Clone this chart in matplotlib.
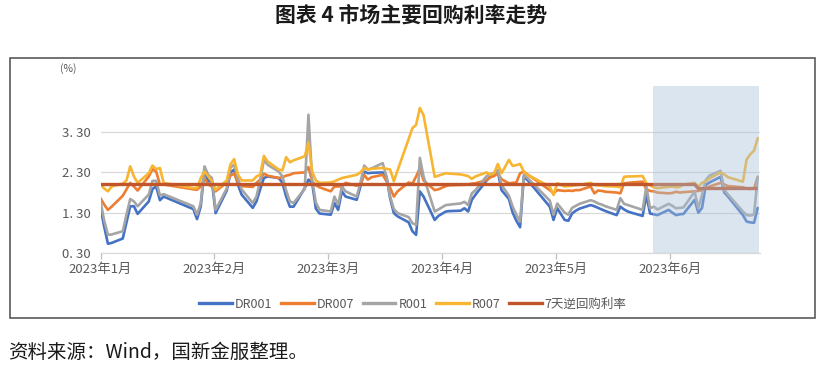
import matplotlib
matplotlib.use("Agg")
import matplotlib.pyplot as plt
from matplotlib.patches import Rectangle
from matplotlib.lines import Line2D
import pandas as pd

plt.rcParams['font.family'] = ['Noto Sans CJK SC', 'DejaVu Sans']

# ---------------- data ----------------
trade_days = [
    "01-03", "01-04", "01-05", "01-06", "01-09", "01-10", "01-11", "01-12", "01-13",
    "01-16", "01-17", "01-18", "01-19", "01-20", "01-28", "01-29", "01-30", "01-31",
    "02-01", "02-02", "02-03", "02-06", "02-07", "02-08", "02-09", "02-10", "02-13",
    "02-14", "02-15", "02-16", "02-17", "02-20", "02-21", "02-22", "02-23", "02-24",
    "02-27", "02-28",
    "03-01", "03-02", "03-03", "03-06", "03-07", "03-08", "03-09", "03-10", "03-13",
    "03-14", "03-15", "03-16", "03-17", "03-20", "03-21", "03-22", "03-23", "03-24",
    "03-27", "03-28", "03-29", "03-30", "03-31",
    "04-03", "04-04", "04-06", "04-07", "04-10", "04-11", "04-12", "04-13", "04-14",
    "04-17", "04-18", "04-19", "04-20", "04-21", "04-23", "04-24", "04-25", "04-26",
    "04-27", "04-28",
    "05-04", "05-05", "05-06", "05-08", "05-09", "05-10", "05-11", "05-12", "05-15",
    "05-16", "05-17", "05-18", "05-19", "05-22", "05-23", "05-24", "05-25", "05-26",
    "05-29", "05-30", "05-31",
    "06-01", "06-02", "06-05", "06-06", "06-07", "06-08", "06-09", "06-12", "06-13",
    "06-14", "06-15", "06-16", "06-19", "06-20", "06-21", "06-25", "06-26", "06-27",
    "06-28", "06-29",
]

dr001 = [
    1.42, 0.95, 0.53, 0.55, 0.66, 1.06, 1.46, 1.46, 1.27, 1.58, 1.89, 1.95, 1.61, 1.70, 1.39, 1.14, 1.46, 2.37,
    2.08, 2.08, 1.29, 1.85, 2.30, 2.37, 2.00, 1.75, 1.42, 1.58, 1.88, 2.16, 2.20, 2.16, 2.04, 1.70, 1.45, 1.45, 1.91, 2.12,
    2.04, 1.40, 1.28, 1.25, 1.54, 1.37, 1.83, 1.70, 1.62, 1.95, 2.32, 2.28, 2.29, 2.30, 2.20, 1.66, 1.29, 1.21, 1.06, 0.84, 0.75, 1.83, 1.70,
    1.12, 1.22, 1.33, 1.34, 1.35, 1.41, 1.33, 1.62, 1.75, 2.10, 2.20, 2.24, 2.32, 1.86, 1.64, 1.30, 1.10, 0.94, 2.19, 2.11,
    1.45, 1.12, 1.41, 1.12, 1.10, 1.28, 1.35, 1.40, 1.49, 1.46, 1.42, 1.38, 1.34, 1.24, 1.45, 1.38, 1.33, 1.30, 1.22, 1.74, 1.28,
    1.26, 1.24, 1.37, 1.30, 1.24, 1.26, 1.27, 1.62, 1.30, 1.42, 1.99, 2.05, 2.19, 1.80, 1.70, 1.24, 1.08, 1.06, 1.05, 1.42,
]

dr007 = [
    1.66, 1.50, 1.37, 1.45, 1.72, 1.88, 2.04, 1.95, 1.85, 2.20, 2.38, 2.32, 2.00, 2.00, 1.88, 1.87, 1.95, 2.16,
    2.00, 1.95, 1.83, 2.05, 2.22, 2.27, 2.05, 1.96, 1.94, 2.04, 2.12, 2.27, 2.22, 2.16, 2.18, 2.22, 2.24, 2.28, 2.30, 2.43,
    2.08, 1.98, 1.93, 1.83, 1.95, 1.95, 1.95, 2.04, 1.97, 2.00, 2.24, 2.12, 2.18, 2.24, 2.08, 1.92, 1.70, 1.83, 2.05, 2.02, 2.20, 2.40, 2.10,
    1.86, 1.88, 1.96, 1.98, 1.99, 1.99, 2.00, 2.02, 2.03, 2.11, 2.18, 2.21, 2.28, 2.13, 2.03, 2.04, 2.05, 2.28, 2.32, 2.25,
    1.86, 1.78, 1.86, 1.84, 1.85, 1.84, 1.86, 1.86, 1.95, 1.78, 1.85, 1.84, 1.82, 1.80, 1.78, 2.03, 2.04, 2.05, 2.07, 1.88, 1.84,
    1.83, 1.80, 1.78, 1.79, 1.82, 1.80, 1.81, 1.83, 1.84, 1.86, 1.92, 1.95, 2.04, 2.00, 1.96, 1.93, 1.90, 1.89, 1.90, 2.19,
]

r001 = [
    1.58, 1.10, 0.75, 0.76, 0.84, 1.25, 1.64, 1.58, 1.46, 1.75, 2.09, 2.09, 1.73, 1.76, 1.46, 1.25, 1.54, 2.45,
    2.24, 2.16, 1.37, 1.90, 2.42, 2.49, 2.15, 1.88, 1.54, 1.70, 2.10, 2.61, 2.49, 2.32, 2.20, 1.85, 1.58, 1.54, 1.89, 3.73,
    2.12, 1.55, 1.37, 1.33, 1.70, 1.50, 1.95, 1.83, 1.70, 2.04, 2.47, 2.37, 2.40, 2.53, 2.20, 1.70, 1.39, 1.29, 1.19, 1.04, 1.00, 2.66, 2.20,
    1.33, 1.38, 1.49, 1.50, 1.53, 1.57, 1.49, 1.78, 1.86, 2.21, 2.26, 2.28, 2.36, 1.99, 1.72, 1.45, 1.25, 1.08, 2.24, 2.16,
    1.60, 1.25, 1.53, 1.30, 1.25, 1.42, 1.47, 1.52, 1.61, 1.58, 1.53, 1.50, 1.46, 1.37, 1.66, 1.52, 1.49, 1.46, 1.37, 1.95, 1.41,
    1.45, 1.38, 1.52, 1.47, 1.41, 1.42, 1.43, 1.82, 1.41, 1.74, 2.11, 2.22, 2.34, 1.86, 1.75, 1.33, 1.24, 1.23, 1.25, 2.19,
]

r007 = [
    2.00, 1.90, 1.83, 1.95, 2.02, 2.10, 2.45, 2.20, 2.04, 2.28, 2.47, 2.38, 2.41, 2.04, 1.91, 1.91, 2.16, 2.32,
    2.20, 2.08, 1.87, 2.10, 2.50, 2.63, 2.25, 2.10, 2.10, 2.20, 2.24, 2.71, 2.57, 2.37, 2.35, 2.68, 2.55, 2.60, 2.70, 3.04,
    2.32, 2.10, 2.04, 2.05, 2.08, 2.12, 2.16, 2.18, 2.24, 2.30, 2.41, 2.37, 2.39, 2.41, 2.39, 2.37, 2.08, 2.35, 3.13, 3.40, 3.48, 3.90, 3.72,
    2.19, 2.22, 2.28, 2.27, 2.25, 2.23, 2.21, 2.14, 2.20, 2.30, 2.24, 2.28, 2.51, 2.28, 2.61, 2.46, 2.48, 2.51, 2.32, 2.24,
    1.95, 1.74, 2.03, 1.95, 1.96, 1.97, 1.98, 1.99, 2.04, 1.99, 1.98, 1.97, 1.96, 1.95, 1.93, 2.19, 2.20, 2.20, 2.21, 2.03, 1.98,
    1.93, 1.91, 1.94, 1.95, 1.93, 1.94, 2.00, 2.04, 1.95, 2.04, 2.08, 2.15, 2.30, 2.25, 2.18, 2.07, 2.62, 2.75, 2.84, 3.15,
]

rr_days = ["01-03", "06-12", "06-13", "06-29"]
rr7 = [2.00, 2.00, 1.90, 1.90]

series_names = ["DR001", "DR007", "R001", "R007", "7天逆回购利率"]
series_colors = ["#4472C4", "#ED7D31", "#A5A5A5", "#F8B532", "#C0562A"]
x_tick_labels = ["2023年1月", "2023年2月", "2023年3月", "2023年4月", "2023年5月", "2023年6月"]
y_ticks = [0.30, 1.30, 2.30, 3.30]
y_tick_labels = ["0. 30", "1. 30", "2. 30", "3. 30"]

title = "图表 4 市场主要回购利率走势"
source = "资料来源：Wind，国新金服整理。"

# ---------------- figure ----------------
W, H = 823, 374
fig = plt.figure(figsize=(W / 100, H / 100), dpi=100)

x = pd.to_datetime(["2023-" + d for d in trade_days])
x_rr = pd.to_datetime(["2023-" + d for d in rr_days])
start = x[0]
day = pd.Timedelta(days=1)

ax_left, ax_right, ax_top, ax_bot = 100.5, 759.6, 86, 253
ax = fig.add_axes([ax_left / W, 1 - ax_bot / H, (ax_right - ax_left) / W, (ax_bot - ax_top) / H])

for vals, col in zip([dr001, dr007, r001, r007], series_colors[:4]):
    ax.plot(x, vals, color=col, lw=1.9, solid_joinstyle="round", solid_capstyle="round", zorder=3)
ax.plot(x_rr, rr7, color=series_colors[4], lw=2.4, solid_capstyle="butt", zorder=4)

ax.set_xlim(start, start + 177.5 * day)
ax.set_ylim(0.30, 4.444)

# shaded focus window
ax.axvspan(start + 148.8 * day, start + 177.3 * day, color="#A8C1DA", alpha=0.42, lw=0, zorder=6)

ax.set_yticks(y_ticks)
ax.set_yticklabels(y_tick_labels)
ax.set_xticks([start + 30.7 * k * day for k in range(len(x_tick_labels))])
ax.set_xticklabels(x_tick_labels)

ax.grid(axis="y", color="#D9D9D9", lw=0.9, zorder=0)
for s in ["top", "right", "left"]:
    ax.spines[s].set_visible(False)
ax.spines["bottom"].set_color("#D9D9D9")
ax.spines["bottom"].set_linewidth(0.9)
ax.tick_params(axis="x", length=4, width=0.9, color="#BFBFBF", labelsize=9.5,
               labelcolor="#595959", pad=3.5)
ax.tick_params(axis="y", length=0, labelsize=9.5, labelcolor="#595959", pad=7)

fig.text(68 / W, 1 - 69 / H, "(%)", ha="center", va="center", fontsize=7.5, color="#595959")

handles = [Line2D([0], [0], color=c, lw=2.4) for c in series_colors]
fig.legend(handles, series_names, loc="center", bbox_to_anchor=(413 / W, 1 - 304 / H),
           ncol=5, frameon=False, fontsize=9, handlelength=2.6, handletextpad=0.25,
           columnspacing=0.7, labelcolor="#595959")

fig.text(0.5, 1 - 15 / H, title, ha="center", va="center", fontsize=15,
         fontweight="bold", color="#1a1a1a")
fig.text(8 / W, 1 - 352 / H, source, ha="left", va="center", fontsize=14, color="#1a1a1a")

fig.add_artist(Rectangle((10 / W, 1 - 318 / H), 805 / W, 260 / H, transform=fig.transFigure,
                         fill=False, edgecolor="#5a5a5a", lw=1.2))

fig.savefig("out.png", dpi=100)
